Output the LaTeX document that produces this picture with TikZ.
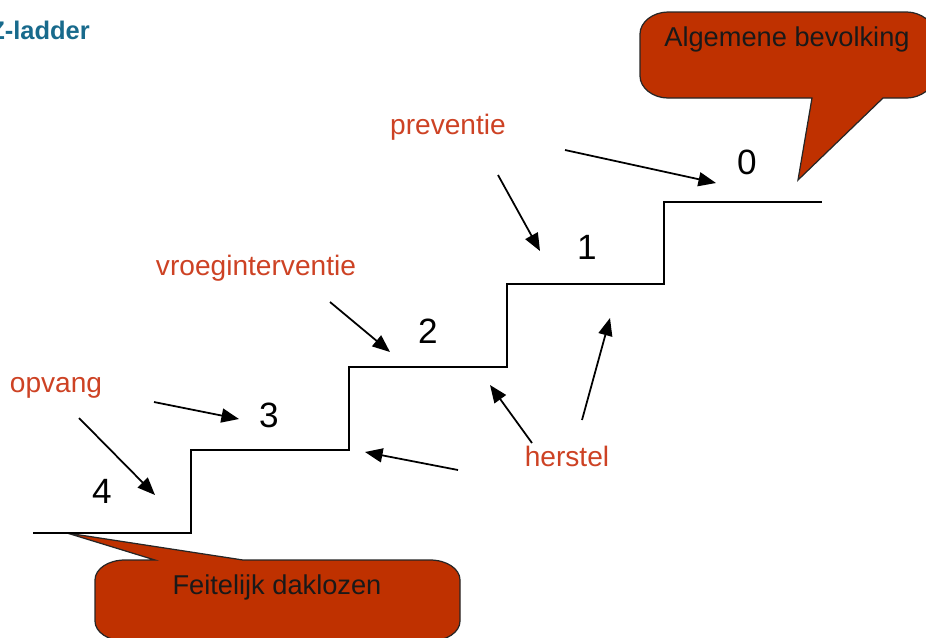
\documentclass[tikz,border=0pt]{standalone}
\usepackage{fontspec}
\setmainfont{Liberation Sans}
\usetikzlibrary{arrows.meta}
\definecolor{ballonrood}{RGB}{191,49,0}
\definecolor{labelrood}{RGB}{205,66,36}
\definecolor{titelblauw}{RGB}{24,106,140}
\begin{document}
\begin{tikzpicture}[x=0.02cm,y=-0.02cm,
	trap/.style={line width=1.3pt},
	pijl/.style={line width=1pt,-{Triangle[length=10pt,width=8pt]}},
	num/.style={anchor=base,font=\fontsize{20}{24}\selectfont},
	lbl/.style={anchor=base,text=labelrood,font=\fontsize{16}{19}\selectfont},
	ballon/.style={fill=ballonrood,draw=black!85,line width=0.7pt},
	btekst/.style={anchor=base,text=black!90,font=\fontsize{15.5}{18}\selectfont}]
			\useasboundingbox (0,0) rectangle (926,637);
			% titel
			\node[anchor=base east,text=titelblauw,font=\bfseries\fontsize{14.5}{17}\selectfont] (titel) at (96,39) {Z-ladder};
			% ballonnen
			\draw[ballon] (640,34) .. controls (640,22) and (653,12) .. (668,12) -- (907,12)
				.. controls (920,12) and (935,22) .. (935,34) -- (935,76)
				.. controls (935,88) and (920,98) .. (907,98) -- (883,98) -- (798,180) -- (812,98)
				-- (668,98) .. controls (653,98) and (640,88) .. (640,76) -- cycle;
			\draw[ballon] (95,580) .. controls (95,569) and (108,560) .. (125,560) -- (155,560) -- (67,533) -- (243,560)
				-- (430,560) .. controls (447,560) and (460,569) .. (460,580) -- (460,621)
				.. controls (460,632) and (447,641) .. (430,641) -- (125,641)
				.. controls (108,641) and (95,632) .. (95,621) -- cycle;
			\node[btekst] (alg) at (787,46) {Algemene bevolking};
			\node[btekst] (feit) at (277,594) {Feitelijk daklozen};
			% trap
			\draw[trap] (33,533) -- (191,533) -- (191,450) -- (349,450) -- (349,367) -- (507,367)
				-- (507,284) -- (664,284) -- (664,202) -- (822,202);
			\node[num] (n4) at (102,503) {4};
			\node[num] (n3) at (269,427) {3};
			\node[num] (n2) at (428,343) {2};
			\node[num] (n1) at (587,259) {1};
			\node[num] (n0) at (747,174) {0};
			% labels
			\node[lbl] (opvang) at (56,392) {opvang};
			\node[lbl] (vroeg) at (256,275) {vroeginterventie};
			\node[lbl] (prev) at (448,134) {preventie};
			\node[lbl] (herstel) at (567,466) {herstel};
			% pijlen
			\coordinate (opvA) at (79,418);   \coordinate (opvAe) at (155,495);
			\coordinate (opvB) at (154,402);  \coordinate (opvBe) at (239,419);
			\coordinate (vroA) at (330,302);  \coordinate (vroAe) at (390,352);
			\coordinate (preA) at (498,175);  \coordinate (preAe) at (540,251);
			\coordinate (preB) at (565,150);  \coordinate (preBe) at (716,183);
			\coordinate (herA) at (458,470);  \coordinate (herAe) at (365,452);
			\coordinate (herB) at (532,443);  \coordinate (herBe) at (490,385);
			\coordinate (herC) at (582,420);  \coordinate (herCe) at (610,318);
			\draw[pijl] (opvA) -- (opvAe);
			\draw[pijl] (opvB) -- (opvBe);
			\draw[pijl] (vroA) -- (vroAe);
			\draw[pijl] (preA) -- (preAe);
			\draw[pijl] (preB) -- (preBe);
			\draw[pijl] (herA) -- (herAe);
			\draw[pijl] (herB) -- (herBe);
			\draw[pijl] (herC) -- (herCe);
			\end{tikzpicture}
\end{document}
